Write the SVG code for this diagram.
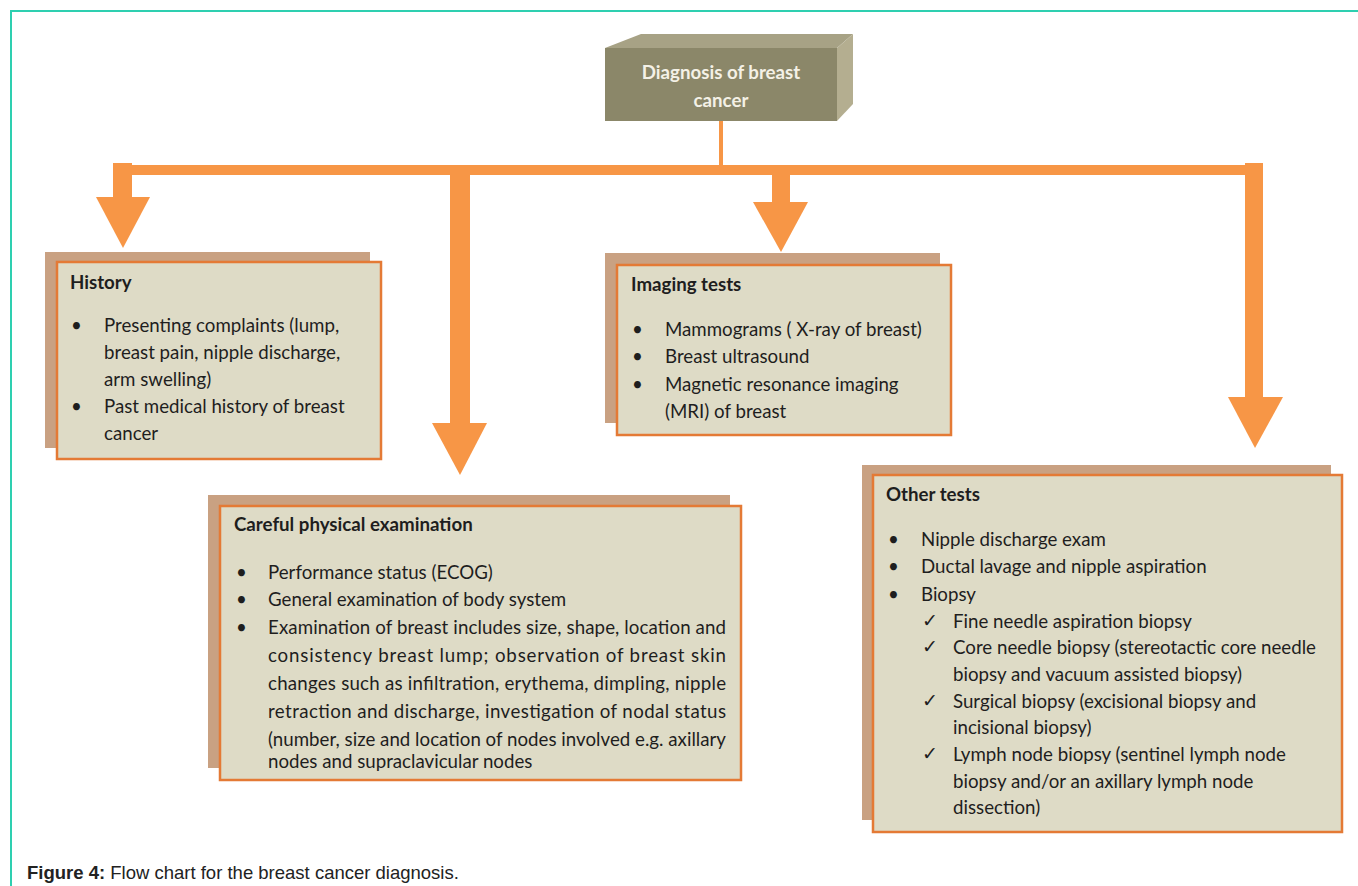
<svg xmlns="http://www.w3.org/2000/svg" width="1358" height="886" viewBox="0 0 1358 886">
<style>
.frame{fill:none;stroke:#2ecfb0;stroke-width:2}
.arrow{fill:#f79646}
.shadow{fill:#c9a182}
.box{fill:#dedbc6;stroke:#e47a35;stroke-width:2.5}
.t{font-family:Lato,"Open Sans","Noto Sans",sans-serif;font-size:18.7px;fill:#1e1e1e}
.b{font-weight:bold}
.cap{font-family:"Liberation Sans",Arial,sans-serif;font-size:18.5px;fill:#222}
.w{fill:#f4f1e6;font-family:Lato,"Open Sans","Noto Sans",sans-serif;font-size:18.7px;font-weight:bold}
.ck{font-family:"DejaVu Sans",sans-serif;font-size:19px;font-weight:bold;fill:#1e1e1e}
</style>
<rect width="1358" height="886" fill="#ffffff"/>
<path class="frame" d="M11,886 V11 H1358"/>

<g id="connectors">
<rect class="arrow" x="719" y="120" width="4" height="50"/>
<rect class="arrow" x="113" y="165" width="1150" height="10"/>
<rect class="arrow" x="113" y="163" width="19" height="35"/>
<polygon class="arrow" points="96,197 150,197 123,248"/>
<rect class="arrow" x="450" y="165" width="20" height="259"/>
<polygon class="arrow" points="432,423 487,423 460,475"/>
<rect class="arrow" x="772" y="170" width="18" height="33"/>
<polygon class="arrow" points="753,202 808,202 781,252"/>
<rect class="arrow" x="1245" y="163" width="18" height="235"/>
<polygon class="arrow" points="1228,397 1283,397 1255,448"/>
</g>

<g id="root">
<polygon points="605,48 641,34 853,34 837,48" fill="#a7a285"/>
<polygon points="837,48 853,34 853,104 837,121" fill="#b4ae90"/>
<rect x="605" y="48" width="232" height="73" fill="#8b8769"/>
<text class="w" x="721" y="79" text-anchor="middle">Diagnosis of breast</text>
<text class="w" x="721" y="107" text-anchor="middle">cancer</text>
</g>

<g id="history">
<rect class="shadow" x="45" y="252" width="325" height="196"/>
<rect class="box" x="57" y="262" width="324" height="197"/>
<text class="t b" x="70" y="289">History</text>
<text class="t" x="71" y="332">•</text>
<text class="t" x="104" y="332">Presenting complaints (lump,</text>
<text class="t" x="104" y="359">breast pain, nipple discharge,</text>
<text class="t" x="104" y="386">arm swelling)</text>
<text class="t" x="71" y="413">•</text>
<text class="t" x="104" y="413">Past medical history of breast</text>
<text class="t" x="104" y="440">cancer</text>
</g>

<g id="imaging">
<rect class="shadow" x="605" y="253" width="335" height="170"/>
<rect class="box" x="617" y="265" width="334" height="170"/>
<text class="t b" x="631" y="291">Imaging tests</text>
<text class="t" x="632" y="336">•</text>
<text class="t" x="665" y="336">Mammograms ( X-ray of breast)</text>
<text class="t" x="632" y="363">•</text>
<text class="t" x="665" y="363">Breast ultrasound</text>
<text class="t" x="632" y="391">•</text>
<text class="t" x="665" y="391">Magnetic resonance imaging</text>
<text class="t" x="665" y="418">(MRI) of breast</text>
</g>

<g id="physical">
<rect class="shadow" x="208" y="495" width="522" height="273"/>
<rect class="box" x="220" y="506" width="521" height="274"/>
<text class="t b" x="234" y="531">Careful physical examination</text>
<text class="t" x="236" y="579">•</text>
<text class="t" x="268" y="579">Performance status (ECOG)</text>
<text class="t" x="236" y="606">•</text>
<text class="t" x="268" y="606">General examination of body system</text>
<text class="t" x="236" y="634">•</text>
<text class="t" x="268" y="634" textLength="458" lengthAdjust="spacing">Examination of breast includes size, shape, location and</text>
<text class="t" x="268" y="662" textLength="458" lengthAdjust="spacing">consistency breast lump; observation of breast skin</text>
<text class="t" x="268" y="690" textLength="458" lengthAdjust="spacing">changes such as infiltration, erythema, dimpling, nipple</text>
<text class="t" x="268" y="718" textLength="458" lengthAdjust="spacing">retraction and discharge, investigation of nodal status</text>
<text class="t" x="268" y="746" textLength="458" lengthAdjust="spacing">(number, size and location of nodes involved e.g. axillary</text>
<text class="t" x="268" y="768">nodes and supraclavicular nodes</text>
</g>

<g id="other">
<rect class="shadow" x="862" y="465" width="469" height="355"/>
<rect class="box" x="873" y="475" width="469" height="357"/>
<text class="t b" x="886" y="501">Other tests</text>
<text class="t" x="888" y="546">•</text>
<text class="t" x="921" y="546">Nipple discharge exam</text>
<text class="t" x="888" y="573">•</text>
<text class="t" x="921" y="573">Ductal lavage and nipple aspiration</text>
<text class="t" x="888" y="601">•</text>
<text class="t" x="921" y="601">Biopsy</text>
<text class="ck" x="922" y="627">✓</text>
<text class="t" x="953" y="628">Fine needle aspiration biopsy</text>
<text class="ck" x="922" y="653">✓</text>
<text class="t" x="953" y="654">Core needle biopsy (stereotactic core needle</text>
<text class="t" x="953" y="681">biopsy and vacuum assisted biopsy)</text>
<text class="ck" x="922" y="707">✓</text>
<text class="t" x="953" y="708">Surgical biopsy (excisional  biopsy and</text>
<text class="t" x="953" y="734">incisional biopsy)</text>
<text class="ck" x="922" y="760">✓</text>
<text class="t" x="953" y="761">Lymph node biopsy (sentinel lymph node</text>
<text class="t" x="953" y="788">biopsy and/or an axillary lymph node</text>
<text class="t" x="953" y="814">dissection)</text>
</g>

<text class="cap" x="27" y="879"><tspan font-weight="bold">Figure 4:</tspan> Flow chart for the breast cancer diagnosis.</text>
</svg>
